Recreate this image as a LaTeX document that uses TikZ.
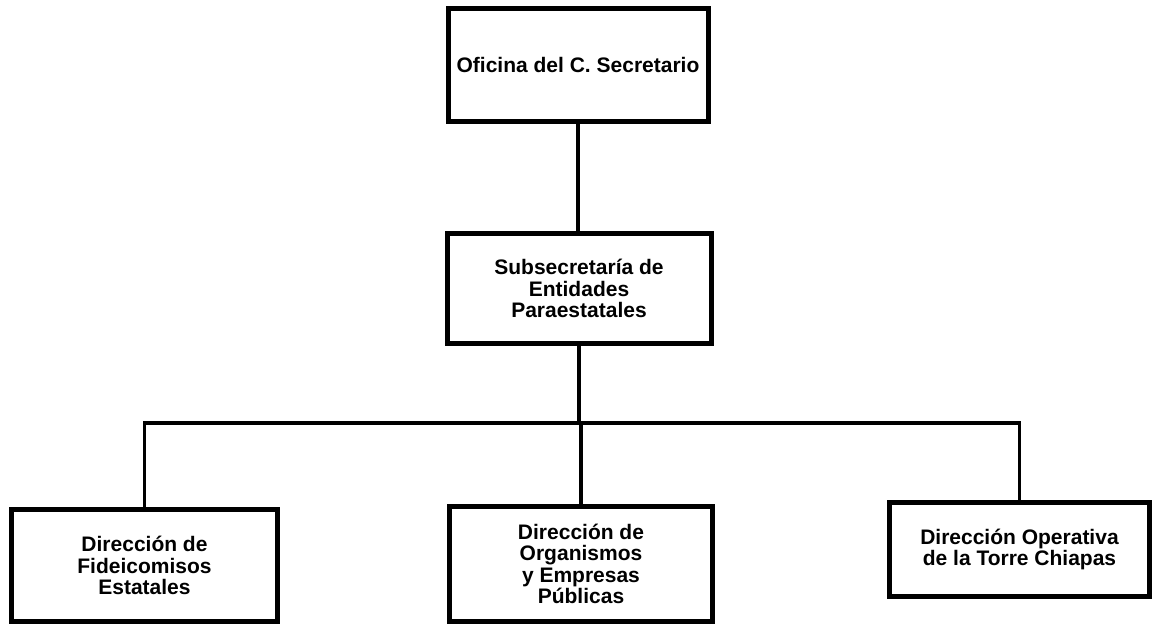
\documentclass[tikz,border=0pt]{standalone}
\usepackage{fontspec}
\setmainfont{Liberation Sans}
\usetikzlibrary{positioning}

\begin{document}
\begin{tikzpicture}[x=1pt, y=-1pt,
  office/.style={rectangle, draw=black, line width=5pt, align=center,
    font=\fontsize{21}{21.5}\selectfont\bfseries},
  link/.style={line width=3.5pt}]
\useasboundingbox (0,0) rectangle (1152,624);

  % head office
  \node[office, minimum width=260pt, minimum height=113pt] (ofi) at (578,65)
        {Oficina del C. Secretario};

  % undersecretary
  \node[office, minimum width=264pt, minimum height=110pt] (sub) at (579,288.5)
        {Subsecretaría de\\Entidades\\Paraestatales};

  % directions
  \node[office, minimum width=266pt, minimum height=112pt] (fid) at (144.5,565.5)
        {Dirección de\\Fideicomisos\\Estatales};
  \node[office, minimum width=263pt, minimum height=115pt] (org) at (581,564)
        {Dirección de\\Organismos\\y Empresas\\Públicas};
  \node[office, minimum width=260pt, minimum height=94pt] (tor) at (1019.5,549.5)
        {Dirección Operativa\\de la Torre Chiapas};

  % connectors
  \coordinate (bar) at (579,423);
  \draw[link] (ofi.south) -- (ofi.south |- sub.north);
  \draw[link] (sub.south) -- (bar);
  \draw[link] (fid.north) |- (bar) -| (tor.north);
  \draw[link] (bar) -- (bar -| org.north) -- (org.north);
\end{tikzpicture}
\end{document}
